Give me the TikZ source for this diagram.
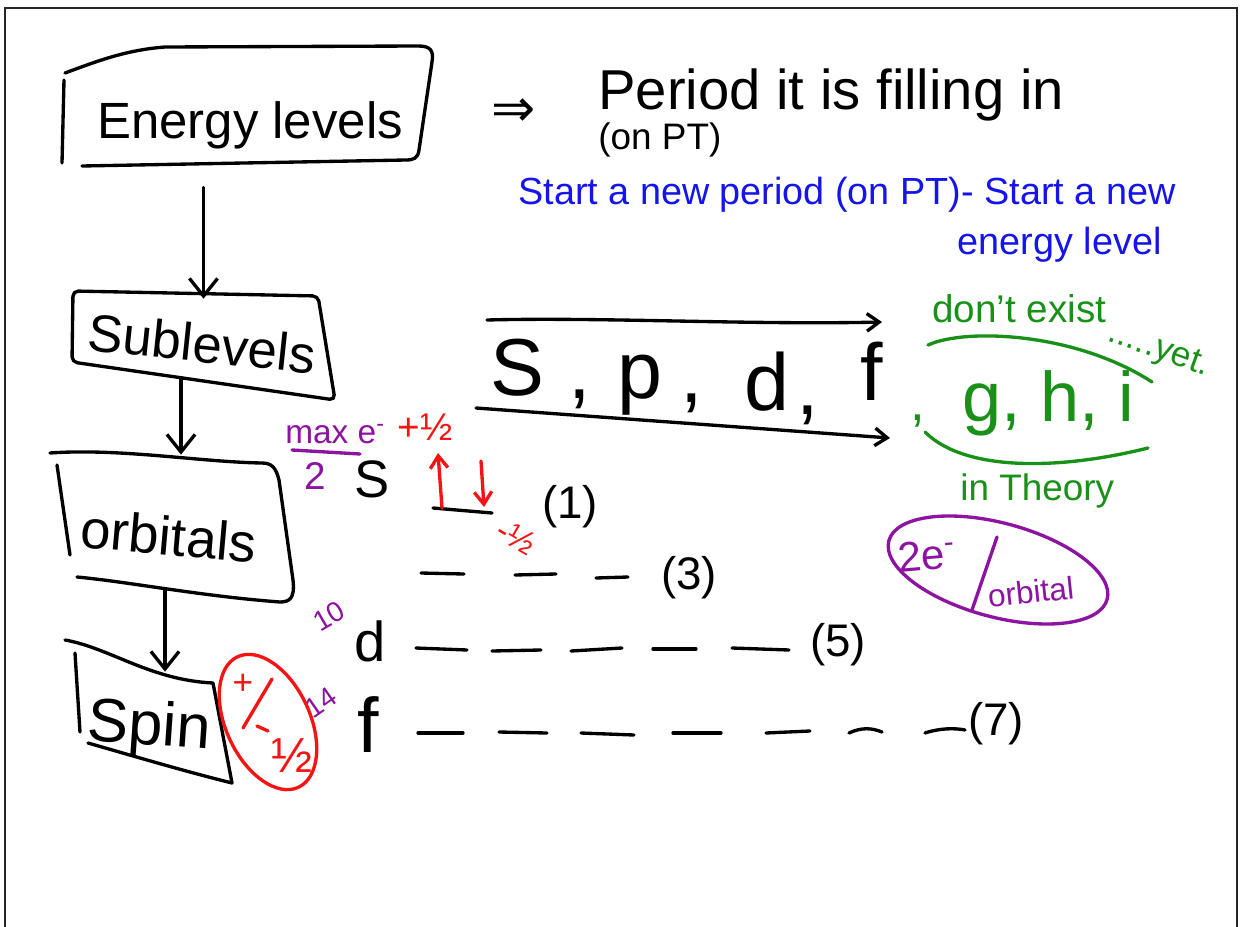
\documentclass[tikz,border=0pt]{standalone}
\usepackage{fontspec}
\setmainfont{Liberation Sans}
\newfontfamily\symfont{DejaVu Sans}
\usetikzlibrary{arrows.meta,calc}
\definecolor{hblue}{RGB}{20,20,235}
\definecolor{hgreen}{RGB}{25,145,25}
\definecolor{hpurple}{RGB}{140,20,160}
\definecolor{hred}{RGB}{245,20,20}
\newcommand{\fsz}[1]{\fontsize{#1}{#1}\selectfont}
\begin{document}
\begin{tikzpicture}[x=0.02cm,y=-0.02cm,
  ink/.style={line width=1.9pt,line cap=round,line join=round},
  bigarr/.style={ink,-{Straight Barb[length=10pt,width=16pt]}},
  smarr/.style={ink,-{Straight Barb[length=7pt,width=10pt]}},
  lbl/.style={inner sep=0pt,anchor=base},
  tiny/.style={inner sep=0pt},
  area/.style={draw=none,inner sep=0pt,rectangle}]
\useasboundingbox (0,0) rectangle (1240,926);
\fill[white] (0,0) rectangle (1240,926);
\draw[line width=1.2pt,black!85] (5,940) -- (5,8) -- (1237,8) -- (1237,940);

% ---- box areas (invisible) ----
\node[area,minimum width=7.38cm,minimum height=2.38cm] (elbox) at (247.5,106.5) {};
\node[area,minimum width=5.26cm,minimum height=1.72cm] (subbox) at (203.5,335) {};
\node[area,minimum width=4.48cm,minimum height=2.7cm] (orbbox) at (181,522.5) {};
\node[area,minimum width=3.4cm,minimum height=1.76cm] (spinbox) at (165,716) {};

% ---- box outlines ----
\draw[ink] (65,73) .. controls (95,62) and (125,50) .. (165,47) -- (418,46)
  .. controls (430,46) and (434,50) .. (432,62) -- (419,150)
  .. controls (418,158) and (414,160) .. (406,160) -- (82,166);
\draw[ink] (64,80) -- (62,163);
\draw[ink,rounded corners=3pt] (73,291) -- (318,296) -- (335,400) -- (72,362) -- cycle;
\draw[ink] (50,453) .. controls (120,448) and (200,462) .. (262,463)
  .. controls (272,463) and (276,468) .. (279,480) -- (293,580)
  .. controls (295,598) and (290,602) .. (280,602)
  .. controls (200,596) and (130,582) .. (77,577);
\draw[ink] (57,465) -- (70,555);
\draw[ink] (65,640) .. controls (110,648) and (150,680) .. (213,683) -- (232,783)
  .. controls (180,770) and (130,755) .. (88,743);
\draw[ink] (75,653) -- (80,732);

% ---- box texts ----
\node[lbl,font=\fsz{29}] (el) at (250,138) {Energy levels};
\node[lbl,font=\fsz{30},rotate=-6] (sub) at (200,362) {Sublevels};
\node[lbl,font=\fsz{31},rotate=-5] (orb) at (167,555) {orbitals};
\node[lbl,font=\fsz{35},rotate=-4] (spin) at (148,745) {Spin};

% ---- flow arrows ----
\draw[bigarr,shorten <=12pt,shorten >=-4pt] (subbox.north |- elbox.south) -- (subbox.north);
\draw[bigarr] (orbbox.north |- subbox.south) -- (orbbox.north);
\draw[bigarr] (spinbox.north |- orbbox.south) -- (spinbox.north);

% ---- top right texts ----
\node[tiny,font=\symfont\fsz{30}] (impl) at (514,113) {⇒};
\node[lbl,anchor=base west,font=\fsz{32}] (period) at (598,110) {Period it is filling in};
\node[lbl,anchor=base west,font=\fsz{21}] (onpt) at (598,150) {(on PT)};
\node[lbl,anchor=base west,font=\fsz{21.5},text=hblue] (blue1) at (518,204) {Start a new period (on PT)- Start a new};
\node[lbl,anchor=base east,font=\fsz{21.5},text=hblue] (blue2) at (1162,254) {energy level};

% ---- s p d f ----
\coordinate (ta) at (487,320);
\coordinate (tb) at (882,322);
\draw[smarr] (ta) .. controls (600,317) and (750,325) .. (tb);
\coordinate (ba) at (476,408);
\coordinate (bb) at (890,438);
\draw[smarr] (ba) -- (bb);
\node[lbl,font=\fsz{46}] (S1) at (517,395) {S};
\node[lbl,font=\fsz{46}] (c1) at (580,398) {,};
\node[lbl,font=\fsz{46}] (P1) at (640,398) {p};
\node[lbl,font=\fsz{46}] (c2) at (692,402) {,};
\node[lbl,font=\fsz{46}] (D1) at (767,410) {d};
\node[lbl,font=\fsz{46}] (c3) at (808,414) {,};
\node[lbl,font=\fsz{46}] (F1) at (872,400) {f};

% ---- green ----
\draw[ink,hgreen] (928,345) .. controls (965,328) and (1075,332) .. (1152,382);
\draw[ink,hgreen] (925,432) .. controls (965,472) and (1060,470) .. (1148,448);
\node[lbl,anchor=base west,font=\fsz{22},text=hgreen] (dont) at (932,322) {don't exist};
\node[lbl,anchor=base west,font=\fsz{20},text=hgreen,rotate=-20] (yet) at (1106,340) {.....yet.};
\node[lbl,font=\fsz{30},text=hgreen] (gc0) at (918,420) {,};
\node[lbl,anchor=base west,font=\fsz{40},text=hgreen] (ghi) at (962,421) {g, h, i};
\node[lbl,anchor=base west,font=\fsz{21},text=hgreen] (theory) at (960,500) {in Theory};

% ---- purple 2e-/orbital ----
\draw[ink,hpurple,rotate around={-15:(998,570)}] (998,570) ellipse [x radius=113, y radius=47];
\node[lbl,font=\fsz{24},text=hpurple,rotate=5] (twoe) at (928,570) {2e\textsuperscript{-}};
\draw[ink,hpurple] (997,537) -- (972,610);
\node[lbl,font=\fsz{18},text=hpurple,rotate=6] (orbital) at (1032,603) {orbital};

% ---- orbital rows ----
\node[lbl,anchor=base west,font=\fsz{19},text=hpurple] (maxe) at (285,443) {max e\textsuperscript{-}};
\draw[ink,hpurple] (292,450) -- (360,454);
\node[lbl,font=\fsz{22},text=hpurple] (two) at (315,489) {2};
\node[lbl,font=\fsz{30}] (slab) at (372,497) {S};
\node[lbl,font=\fsz{32}] (dlab) at (370,661) {d};
\node[lbl,font=\fsz{44}] (flab) at (368,752) {f};
\node[tiny,font=\fsz{16},text=hpurple,rotate=30] (ten) at (329,616) {10};
\node[tiny,font=\fsz{16},text=hpurple,rotate=35] (fourteen) at (321,703) {14};

% s orbital
\draw[ink] (433,508) -- (492,513);
\coordinate (u1) at (442,508);
\coordinate (u2) at (438,453);
\draw[smarr,hred] (u1) -- (u2);
\coordinate (d1) at (481,461);
\coordinate (d2) at (484,507);
\draw[smarr,hred] (d1) -- (d2);
\node[lbl,font=\fsz{22},text=hred] (plushalf) at (425,440) {+½};
\node[tiny,font=\fsz{19},text=hred,rotate=-30] (minushalf) at (516,537) {-½};
\node[tiny,font=\fsz{26}] (n1) at (570,507) {(1)};

% p orbitals
\draw[ink] (421,573) -- (464,574);
\draw[ink] (515,575) -- (556,574);
\draw[ink] (596,578) -- (628,577);
\node[tiny,font=\fsz{26}] (n3) at (689,578) {(3)};

% d orbitals
\draw[ink] (416,648) -- (467,650);
\draw[ink] (492,651) -- (541,650);
\draw[ink] (571,651) -- (622,648);
\draw[ink] (653,649) -- (696,649);
\draw[ink] (732,648) -- (789,650);
\node[tiny,font=\fsz{26}] (n5) at (838,645) {(5)};

% f orbitals
\draw[ink] (418,733) -- (463,733);
\draw[ink] (499,732) -- (547,733);
\draw[ink] (581,733) -- (634,735);
\draw[ink] (673,733) -- (721,733);
\draw[ink] (766,733) -- (810,731);
\draw[ink] (849,733) .. controls (862,727) and (872,728) .. (882,732);
\draw[ink] (925,733) .. controls (940,728) and (955,728) .. (965,730);
\node[tiny,font=\fsz{26}] (n7) at (996,724) {(7)};

% ---- red spin ellipse ----
\draw[ink,hred,rotate around={-65:(268,722)}] (268,722) ellipse [x radius=72, y radius=42];
\node[tiny,font=\fsz{20},text=hred] (rplus) at (243,684) {+};
\draw[ink,hred] (272,679) -- (243,728);
\draw[ink,hred] (257,726) -- (268,731);
\node[tiny,font=\fsz{28},text=hred] (rhalf) at (292,756) {½};
\end{tikzpicture}
\end{document}
